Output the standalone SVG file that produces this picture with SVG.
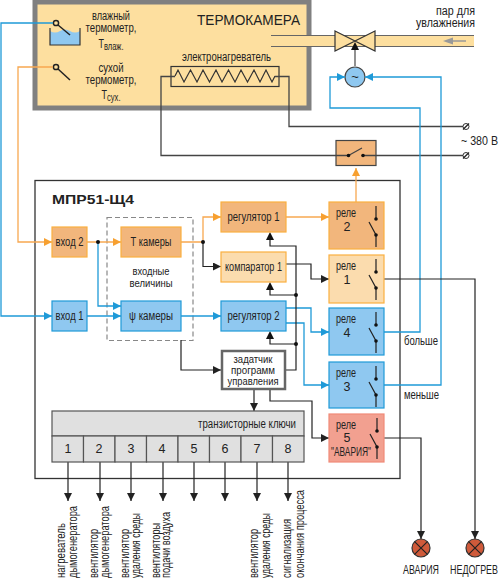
<svg xmlns="http://www.w3.org/2000/svg" width="500" height="580" viewBox="0 0 500 580">
<style>
text{font-family:"Liberation Sans",Arial,sans-serif;font-size:12.500px;fill:#222}
.m{text-anchor:middle}
.w{fill:none;stroke:#444;stroke-width:1.3}
.k{fill:none;stroke:#222;stroke-width:1.2}
.b{fill:none;stroke:#1f9ad8;stroke-width:1.3}
.o{fill:none;stroke:#f7a850;stroke-width:1.3}
.ab{marker-end:url(#ak)}
.bb{marker-end:url(#ab)}
.ob{marker-end:url(#ao)}
.fo{fill:#f2b67c;stroke:#fbb040;stroke-width:1.2}
.fl{fill:#fbdcae;stroke:#fbb040;stroke-width:1.2}
.fb{fill:#8fc8f0;stroke:#1f9ad8;stroke-width:1.2}
.fr{fill:#f2a090;stroke:#f08a78;stroke-width:1.2}
.c{fill:#e0e0e0;stroke:#555;stroke-width:1.2}
.sw{fill:none;stroke:#222;stroke-width:1.2}
.dot{fill:#111}
</style>
<defs>
<marker id="ak" markerUnits="userSpaceOnUse" markerWidth="9" markerHeight="8" refX="8" refY="4" orient="auto"><path d="M0 0L8 4L0 8z" fill="#222"/></marker>
<marker id="ab" markerUnits="userSpaceOnUse" markerWidth="9" markerHeight="8" refX="8" refY="4" orient="auto"><path d="M0 0L8 4L0 8z" fill="#1f9ad8"/></marker>
<marker id="ao" markerUnits="userSpaceOnUse" markerWidth="9" markerHeight="8" refX="8" refY="4" orient="auto"><path d="M0 0L8 4L0 8z" fill="#f7a030"/></marker>
<g id="sym"><path class="sw" d="M0 4V17M-7 20L0 33V45"/><circle class="dot" cy="17" r="1.8"/><circle class="dot" cy="33" r="1.8"/></g>
</defs>

<g id="termokamera">
<rect x="35" y="2" width="274" height="106" fill="#fddf9f" stroke="#808080" stroke-width="5"/>
<text x="197" y="25" textLength="103" lengthAdjust="spacingAndGlyphs" style="font-size:14.500px">ТЕРМОКАМЕРА</text>
</g>
<g id="pipe">
<rect x="271" y="35.500" width="203" height="11" fill="#fddf9f"/>
<path d="M271 35.500H474M271 46.500H474" fill="none" stroke="#666" stroke-width="1.2"/>
<path d="M466 41H450" fill="none" stroke="#999" stroke-width="1.5"/>
<path d="M443 41L453 37.500V44.500z" fill="#999"/>
<text x="475" y="15" text-anchor="end" textLength="39" lengthAdjust="spacingAndGlyphs">пар для</text>
<text x="475" y="27" text-anchor="end" textLength="59" lengthAdjust="spacingAndGlyphs">увлажнения</text>
</g>
<g id="valve">
<path d="M335 31L355 41L335 51zM375 31L355 41L375 51z" fill="#fddf9f" stroke="#333" stroke-width="1.2"/>
<path d="M355 66V50" fill="none" stroke="#555" stroke-width="1.3"/>
<path d="M351 50L355 42L359 50z" fill="#111"/>
</g>
<g id="motor">
<circle cx="355" cy="77" r="10" fill="#8fc8f0" stroke="#444" stroke-width="1.2"/>
<text x="355" y="81" class="m" style="font-size:13px">~</text>
</g>
<g id="wet-thermometer">
<path d="M50 31Q55 34 60 31T70 31T80 31V45H50z" fill="#8fc8f0"/>
<path d="M50 28V45H80V28" fill="none" stroke="#333" stroke-width="1.2"/>
<path d="M58 25L70 35" stroke="#222" stroke-width="1.5"/>
<circle cx="56" cy="23" r="2.600" fill="#fddf9f" stroke="#222" stroke-width="1.5"/>
<text x="111" y="20" class="m" textLength="38" lengthAdjust="spacingAndGlyphs">влажный</text>
<text x="111" y="32" class="m" textLength="51" lengthAdjust="spacingAndGlyphs">термометр,</text>
<text x="111" y="48" class="m" textLength="25" lengthAdjust="spacingAndGlyphs">Т<tspan dy="2" style="font-size:10.500px">влаж.</tspan></text>
</g>
<g id="dry-thermometer">
<path d="M58 69L70 80" stroke="#222" stroke-width="1.5"/>
<circle cx="56" cy="67" r="2.600" fill="#fddf9f" stroke="#222" stroke-width="1.5"/>
<text x="111" y="72" class="m" textLength="25" lengthAdjust="spacingAndGlyphs">сухой</text>
<text x="111" y="84" class="m" textLength="51" lengthAdjust="spacingAndGlyphs">термометр,</text>
<text x="111" y="99" class="m" textLength="19" lengthAdjust="spacingAndGlyphs">Т<tspan dy="2" style="font-size:10.500px">сух.</tspan></text>
</g>
<g id="heater">
<rect x="171" y="66.500" width="108" height="20" fill="none" stroke="#333" stroke-width="1.2"/>
<path d="M175 76L178 70L184 82L190.500 70L197 82L203 70L209.500 82L216 70L222 82L228.500 70L235 82L241 70L247.500 82L254 70L260 82L266 70L272 82L275 76" fill="none" stroke="#333" stroke-width="1.2"/>
<text x="226.500" y="61" class="m" textLength="89" lengthAdjust="spacingAndGlyphs">электронагреватель</text>
</g>

<g id="mpr51">
<rect x="35" y="180.500" width="365" height="298" fill="#fff" stroke="#333" stroke-width="1.300"/>
<text x="52" y="204" textLength="82" lengthAdjust="spacingAndGlyphs" style="font-size:13.500px;font-weight:bold">МПР51-Щ4</text>
</g>
<g id="input-values">
<rect x="107" y="217.500" width="86" height="123" fill="none" stroke="#888" stroke-width="1.2" stroke-dasharray="5 3"/>
<text x="151" y="275" class="m" textLength="37" lengthAdjust="spacingAndGlyphs" style="font-size:11.500px">входные</text>
<text x="151" y="287" class="m" textLength="43" lengthAdjust="spacingAndGlyphs" style="font-size:11.500px">величины</text>
</g>

<g id="connectors">
<path class="w" d="M175 76.500H161V155.500H348M275 76.500H289V126.500H463M363 155.500H463"/>
<path class="b bb" d="M53 23H1V316H52"/>
<path class="o ob" d="M53 67H18V242H52"/>
<path class="o ob" d="M87 242H121"/>
<path class="b bb" d="M98 242V306H121"/>
<path class="b bb" d="M87 316H121"/>
<path class="o ob" d="M181 242H203V217H221"/>
<path class="k ab" d="M203 242V266.500H221"/>
<path class="b bb" d="M181 316H221"/>
<path class="k ab" d="M181 340V370H221"/>
<path class="o ob" d="M286 217H329"/>
<path class="o ob" d="M356 202V168"/>
<path class="k ab" d="M286 264H311V279H329"/>
<path class="b bb" d="M286 308H311V332H329"/>
<path class="b bb" d="M286 323H304V385H329"/>
<path class="k" d="M286 370H296V246H270V240"/>
<path class="k" d="M296 295H270V290M296 344H270V339"/>
<path d="M266 240L270 232L274 240zM266 290L270 282L274 290zM266 339L270 331L274 339z" fill="#111"/>
<path class="k ab" d="M254 390V411"/>
<path class="k ab" d="M270 390V401H312V438H329"/>
<path class="b bb" d="M384 332H420V108H330V77H345"/>
<path class="b bb" d="M384 385H441V77H365"/>
<path class="k ab" d="M384 279H475V539"/>
<path class="k ab" d="M384 438H421V539"/>
<path class="k ab" d="M68 462V501"/>
<path class="k ab" d="M100 462V501"/>
<path class="k ab" d="M131 462V501"/>
<path class="k ab" d="M163 462V501"/>
<path class="k ab" d="M194 462V501"/>
<path class="k ab" d="M225 462V501"/>
<path class="k ab" d="M257 462V501"/>
<path class="k ab" d="M288 462V501"/>
<circle class="dot" cx="98" cy="242" r="2"/>
<circle class="dot" cx="203" cy="242" r="2"/>
<circle class="dot" cx="296" cy="295" r="2"/>
<circle class="dot" cx="296" cy="344" r="2"/>
</g>

<g id="switch">
<rect x="336" y="140.500" width="40" height="25" fill="#f2b67c" stroke="#444" stroke-width="1.2"/>
<path class="w" d="M336 155.500H348M363 155.500H376M348.500 155.500L362 148"/>
<circle class="dot" cx="348.500" cy="155.500" r="1.800"/><circle class="dot" cx="363" cy="155.500" r="1.800"/>
</g>
<g id="term1"><circle cx="466" cy="126.500" r="3" fill="#fff" stroke="#333"/><path class="k" d="M463 129.500L469 123.500"/></g>
<g id="term2"><circle cx="466" cy="155.500" r="3" fill="#fff" stroke="#333"/><path class="k" d="M463 158.500L469 152.500"/></g>
<text x="461" y="145" textLength="37" lengthAdjust="spacingAndGlyphs">~ 380 В</text>

<g id="input2"><rect class="fo" x="52" y="227" width="35" height="30"/><text x="69.500" y="246" class="m" textLength="28" lengthAdjust="spacingAndGlyphs">вход 2</text></g>
<g id="input1"><rect class="fb" x="52" y="301" width="35" height="30"/><text x="69.500" y="320" class="m" textLength="28" lengthAdjust="spacingAndGlyphs">вход 1</text></g>
<g id="t-chamber"><rect class="fo" x="121" y="227" width="60" height="30"/><text x="151" y="246" class="m" textLength="41" lengthAdjust="spacingAndGlyphs">Т камеры</text></g>
<g id="psi-chamber"><rect class="fb" x="121" y="301" width="60" height="30"/><text x="151" y="320" class="m" textLength="44" lengthAdjust="spacingAndGlyphs">ψ камеры</text></g>
<g id="reg1"><rect class="fo" x="221" y="202" width="65" height="30"/><text x="253.500" y="221" class="m" textLength="52" lengthAdjust="spacingAndGlyphs">регулятор 1</text></g>
<g id="comp1"><rect class="fl" x="221" y="252" width="65" height="30"/><text x="253.500" y="271" class="m" textLength="57" lengthAdjust="spacingAndGlyphs">компаратор 1</text></g>
<g id="reg2"><rect class="fb" x="221" y="301" width="65" height="30"/><text x="253.500" y="320" class="m" textLength="52" lengthAdjust="spacingAndGlyphs">регулятор 2</text></g>
<g id="setter"><rect x="222" y="351" width="63" height="38" fill="#fff" stroke="#666" stroke-width="2.500"/>
<text x="253" y="363" class="m" textLength="39" lengthAdjust="spacingAndGlyphs" style="font-size:11.500px">задатчик</text><text x="253" y="374" class="m" textLength="44" lengthAdjust="spacingAndGlyphs" style="font-size:11.500px">программ</text><text x="253" y="385" class="m" textLength="51" lengthAdjust="spacingAndGlyphs" style="font-size:11.500px">управления</text></g>

<g id="relay2"><rect class="fo" x="329" y="202" width="55" height="47"/><text x="346" y="217" class="m" textLength="20" lengthAdjust="spacingAndGlyphs">реле</text><text x="347" y="231" class="m">2</text><use href="#sym" x="376" y="202"/></g>
<g id="relay1"><rect class="fl" x="329" y="255" width="55" height="48"/><text x="346" y="270" class="m" textLength="20" lengthAdjust="spacingAndGlyphs">реле</text><text x="347" y="284" class="m">1</text><use href="#sym" x="376" y="255"/></g>
<g id="relay4"><rect class="fb" x="329" y="308" width="55" height="47"/><text x="346" y="323" class="m" textLength="20" lengthAdjust="spacingAndGlyphs">реле</text><text x="347" y="337" class="m">4</text><use href="#sym" x="376" y="308"/></g>
<g id="relay3"><rect class="fb" x="329" y="362" width="55" height="46"/><text x="346" y="377" class="m" textLength="20" lengthAdjust="spacingAndGlyphs">реле</text><text x="347" y="391" class="m">3</text><use href="#sym" x="376" y="362"/></g>
<g id="relay5"><rect class="fr" x="329" y="414" width="55" height="48"/><text x="346" y="429" class="m" textLength="20" lengthAdjust="spacingAndGlyphs">реле</text><text x="347" y="442" class="m">5</text><text x="351" y="456" class="m" textLength="40" lengthAdjust="spacingAndGlyphs">"АВАРИЯ"</text><use href="#sym" x="377" y="414"/></g>
<text x="404" y="345" textLength="34" lengthAdjust="spacingAndGlyphs">больше</text>
<text x="404" y="399" textLength="35" lengthAdjust="spacingAndGlyphs">меньше</text>

<g id="keys">
<rect class="c" x="52" y="411" width="252" height="25"/>
<text x="296" y="428" text-anchor="end" textLength="98" lengthAdjust="spacingAndGlyphs">транзисторные ключи</text>
<rect class="c" x="52" y="436" width="31.500" height="26"/><rect class="c" x="83.500" y="436" width="31.500" height="26"/><rect class="c" x="115" y="436" width="31.500" height="26"/><rect class="c" x="146.500" y="436" width="31.500" height="26"/><rect class="c" x="178" y="436" width="31.500" height="26"/><rect class="c" x="209.500" y="436" width="31.500" height="26"/><rect class="c" x="241" y="436" width="31.500" height="26"/><rect class="c" x="272.500" y="436" width="31.500" height="26"/>
<text x="68" y="453" class="m">1</text><text x="99" y="453" class="m">2</text><text x="131" y="453" class="m">3</text><text x="162" y="453" class="m">4</text><text x="194" y="453" class="m">5</text><text x="225" y="453" class="m">6</text><text x="257" y="453" class="m">7</text><text x="288" y="453" class="m">8</text>
</g>
<g id="output-labels">
<text transform="translate(65,578) rotate(-90)" textLength="55" lengthAdjust="spacingAndGlyphs">нагреватель</text><text transform="translate(77,578) rotate(-90)" textLength="72" lengthAdjust="spacingAndGlyphs">дымогенератора</text>
<text transform="translate(98,578) rotate(-90)" textLength="49" lengthAdjust="spacingAndGlyphs">вентилятор</text><text transform="translate(109,578) rotate(-90)" textLength="72" lengthAdjust="spacingAndGlyphs">дымогенератора</text>
<text transform="translate(129,578) rotate(-90)" textLength="49" lengthAdjust="spacingAndGlyphs">вентилятор</text><text transform="translate(140,578) rotate(-90)" textLength="65" lengthAdjust="spacingAndGlyphs">удаления среды</text>
<text transform="translate(160,578) rotate(-90)" textLength="55" lengthAdjust="spacingAndGlyphs">вентиляторы</text><text transform="translate(170,578) rotate(-90)" textLength="66" lengthAdjust="spacingAndGlyphs">подачи воздуха</text>
<text transform="translate(258,578) rotate(-90)" textLength="49" lengthAdjust="spacingAndGlyphs">вентилятор</text><text transform="translate(270,578) rotate(-90)" textLength="65" lengthAdjust="spacingAndGlyphs">удаления среды</text>
<text transform="translate(291,578) rotate(-90)" textLength="59" lengthAdjust="spacingAndGlyphs">сигнализация</text><text transform="translate(304,578) rotate(-90)" textLength="88" lengthAdjust="spacingAndGlyphs">окончания процесса</text>
</g>
<g id="lamp-alarm"><circle cx="421" cy="548" r="9" fill="#cf5a3a" stroke="#333" stroke-width="1.2"/><path class="k" d="M414.600 541.600L427.400 554.400M414.600 554.400L427.400 541.600"/><text x="421" y="574" class="m" textLength="36" lengthAdjust="spacingAndGlyphs">АВАРИЯ</text></g>
<g id="lamp-under"><circle cx="475" cy="548" r="9" fill="#cf5a3a" stroke="#333" stroke-width="1.2"/><path class="k" d="M468.600 541.600L481.400 554.400M468.600 554.400L481.400 541.600"/><text x="474" y="574" class="m" textLength="48" lengthAdjust="spacingAndGlyphs">НЕДОГРЕВ</text></g>
</svg>
